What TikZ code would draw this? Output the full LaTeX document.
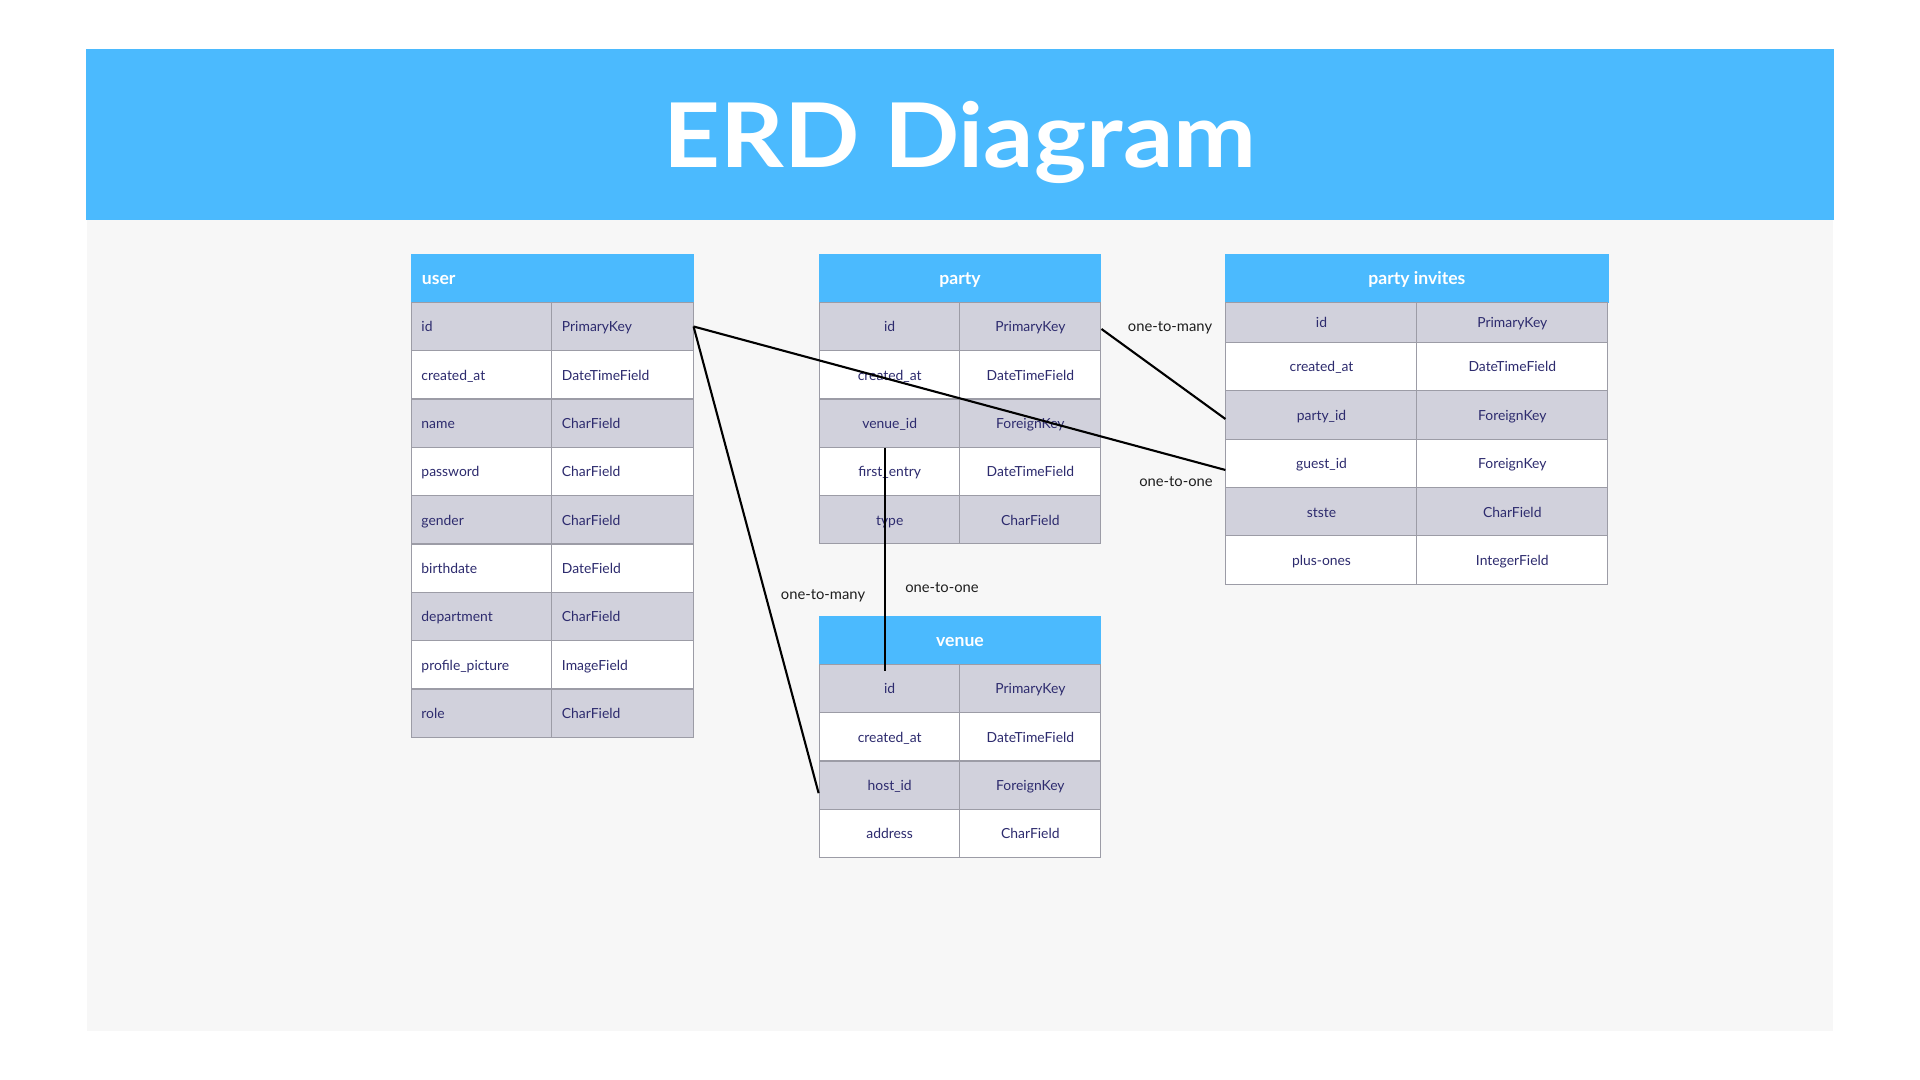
\documentclass[tikz,border=0pt]{standalone}
\usepackage{fontspec}
\setmainfont{Lato}

\definecolor{headblue}{HTML}{4BBAFE}
\definecolor{rowgray}{HTML}{D1D1DC}
\definecolor{gridline}{HTML}{9C9CA6}
\definecolor{celltext}{HTML}{2D2B6E}
\definecolor{canvas}{HTML}{F7F7F7}
\definecolor{labeltext}{HTML}{1E1E1E}

\tikzset{
  cell/.style={draw=gridline, line width=0.3pt, inner sep=0pt, minimum height=0.4833cm,
    text height=3pt, text depth=0pt, font=\fontsize{3.95}{4.5}\selectfont, text=celltext},
  dark/.style={cell, fill=rowgray},
  light/.style={cell, fill=white},
  narrow/.style={minimum width=1.41cm},
  broad/.style={minimum width=1.91cm},
  flush/.style={text width=1.21cm, align=left, inner xsep=0.1cm},
  tablehead/.style={fill=headblue, draw=headblue, text=white, inner sep=0pt,
    minimum height=0.48cm, text height=3.5pt, text depth=0pt,
    font=\bfseries\fontsize{5}{6}\selectfont},
  rel/.style={draw=black, line width=0.6pt},
  rellabel/.style={font=\fontsize{4.2}{5}\selectfont, text=labeltext, inner sep=1pt},
}

\begin{document}
\begin{tikzpicture}[x=0.01cm, y=-0.01cm]
  \useasboundingbox (0,0) rectangle (1920,1080);
  \fill[white] (0,0) rectangle (1920,1080);
  \fill[canvas] (87,220) rectangle (1833,1031);
  \node[fill=headblue, minimum width=17.46cm, minimum height=1.71cm, text=white, text depth=0pt,
    font=\bfseries\fontsize{25.4}{30}\selectfont] (banner) at (960,134.5) {\scalebox{1.11}[1]{ERD Diagram}};

  % user
  \node[tablehead, text width=2.61cm, align=left, inner xsep=0.1cm] (user) at (552.5,278.3) {user};
  \node[dark, narrow, flush] (u1) at (482,326.5) {id};
  \node[dark, narrow, flush] (u1t) at (622.5,326.5) {PrimaryKey};
  \node[light, narrow, flush] (u2) at (482,374.8) {created\_at};
  \node[light, narrow, flush] (u2t) at (622.5,374.8) {DateTimeField};
  \node[dark, narrow, flush] (u3) at (482,423.2) {name};
  \node[dark, narrow, flush] (u3t) at (622.5,423.2) {CharField};
  \node[light, narrow, flush] (u4) at (482,471.5) {password};
  \node[light, narrow, flush] (u4t) at (622.5,471.5) {CharField};
  \node[dark, narrow, flush] (u5) at (482,519.8) {gender};
  \node[dark, narrow, flush] (u5t) at (622.5,519.8) {CharField};
  \node[light, narrow, flush] (u6) at (482,568.2) {birthdate};
  \node[light, narrow, flush] (u6t) at (622.5,568.2) {DateField};
  \node[dark, narrow, flush] (u7) at (482,616.5) {department};
  \node[dark, narrow, flush] (u7t) at (622.5,616.5) {CharField};
  \node[light, narrow, flush] (u8) at (482,664.8) {profile\_picture};
  \node[light, narrow, flush] (u8t) at (622.5,664.8) {ImageField};
  \node[dark, narrow, flush] (u9) at (482,713.2) {role};
  \node[dark, narrow, flush] (u9t) at (622.5,713.2) {CharField};

  % party
  \node[tablehead, minimum width=2.81cm] (party) at (960,278.3) {party};
  \node[dark, narrow] (p1) at (889.7,326.5) {id};
  \node[dark, narrow] (p1t) at (1030.4,326.5) {PrimaryKey};
  \node[light, narrow] (p2) at (889.7,374.8) {created\_at};
  \node[light, narrow] (p2t) at (1030.4,374.8) {DateTimeField};
  \node[dark, narrow] (p3) at (889.7,423.2) {venue\_id};
  \node[dark, narrow] (p3t) at (1030.4,423.2) {ForeignKey};
  \node[light, narrow] (p4) at (889.7,471.5) {first\_entry};
  \node[light, narrow] (p4t) at (1030.4,471.5) {DateTimeField};
  \node[dark, narrow] (p5) at (889.7,519.8) {type};
  \node[dark, narrow] (p5t) at (1030.4,519.8) {CharField};

  % party invites
  \node[tablehead, minimum width=3.817cm] (invites) at (1416.9,278.3) {party invites};
  \node[dark, broad, minimum height=0.4cm] (pi1) at (1321.5,322.3) {id};
  \node[dark, broad, minimum height=0.4cm] (pi1t) at (1512.3,322.3) {PrimaryKey};
  \node[light, broad] (pi2) at (1321.5,366.5) {created\_at};
  \node[light, broad] (pi2t) at (1512.3,366.5) {DateTimeField};
  \node[dark, broad] (pi3) at (1321.5,415) {party\_id};
  \node[dark, broad] (pi3t) at (1512.3,415) {ForeignKey};
  \node[light, broad] (pi4) at (1321.5,463.5) {guest\_id};
  \node[light, broad] (pi4t) at (1512.3,463.5) {ForeignKey};
  \node[dark, broad] (pi5) at (1321.5,511.8) {stste};
  \node[dark, broad] (pi5t) at (1512.3,511.8) {CharField};
  \node[light, broad] (pi6) at (1321.5,560) {plus-ones};
  \node[light, broad] (pi6t) at (1512.3,560) {IntegerField};

  % venue
  \node[tablehead, minimum width=2.81cm] (venue) at (960,640.5) {venue};
  \node[dark, narrow] (v1) at (889.7,688.7) {id};
  \node[dark, narrow] (v1t) at (1030.4,688.7) {PrimaryKey};
  \node[light, narrow] (v2) at (889.7,736.8) {created\_at};
  \node[light, narrow] (v2t) at (1030.4,736.8) {DateTimeField};
  \node[dark, narrow] (v3) at (889.7,785.2) {host\_id};
  \node[dark, narrow] (v3t) at (1030.4,785.2) {ForeignKey};
  \node[light, narrow] (v4) at (889.7,833.3) {address};
  \node[light, narrow] (v4t) at (1030.4,833.3) {CharField};

  \draw[rel] (u1t.east) -- ([yshift=-0.065cm]pi4.west);
  \draw[rel] (u1t.east) -- ([yshift=-0.08cm]v3.west);
  \draw[rel] ([yshift=-0.025cm]p1t.east) -- ([yshift=-0.04cm]pi3.west);
  \draw[rel] ([xshift=-0.047cm]p3.south) -- ([xshift=-0.047cm,yshift=-0.07cm]v1.north);

  \node[rellabel] (l1) at (1170,328) {one-to-many};
  \node[rellabel] (l2) at (1176,482) {one-to-one};
  \node[rellabel] (l3) at (823,596) {one-to-many};
  \node[rellabel] (l4) at (942,588) {one-to-one};
\end{tikzpicture}
\end{document}
